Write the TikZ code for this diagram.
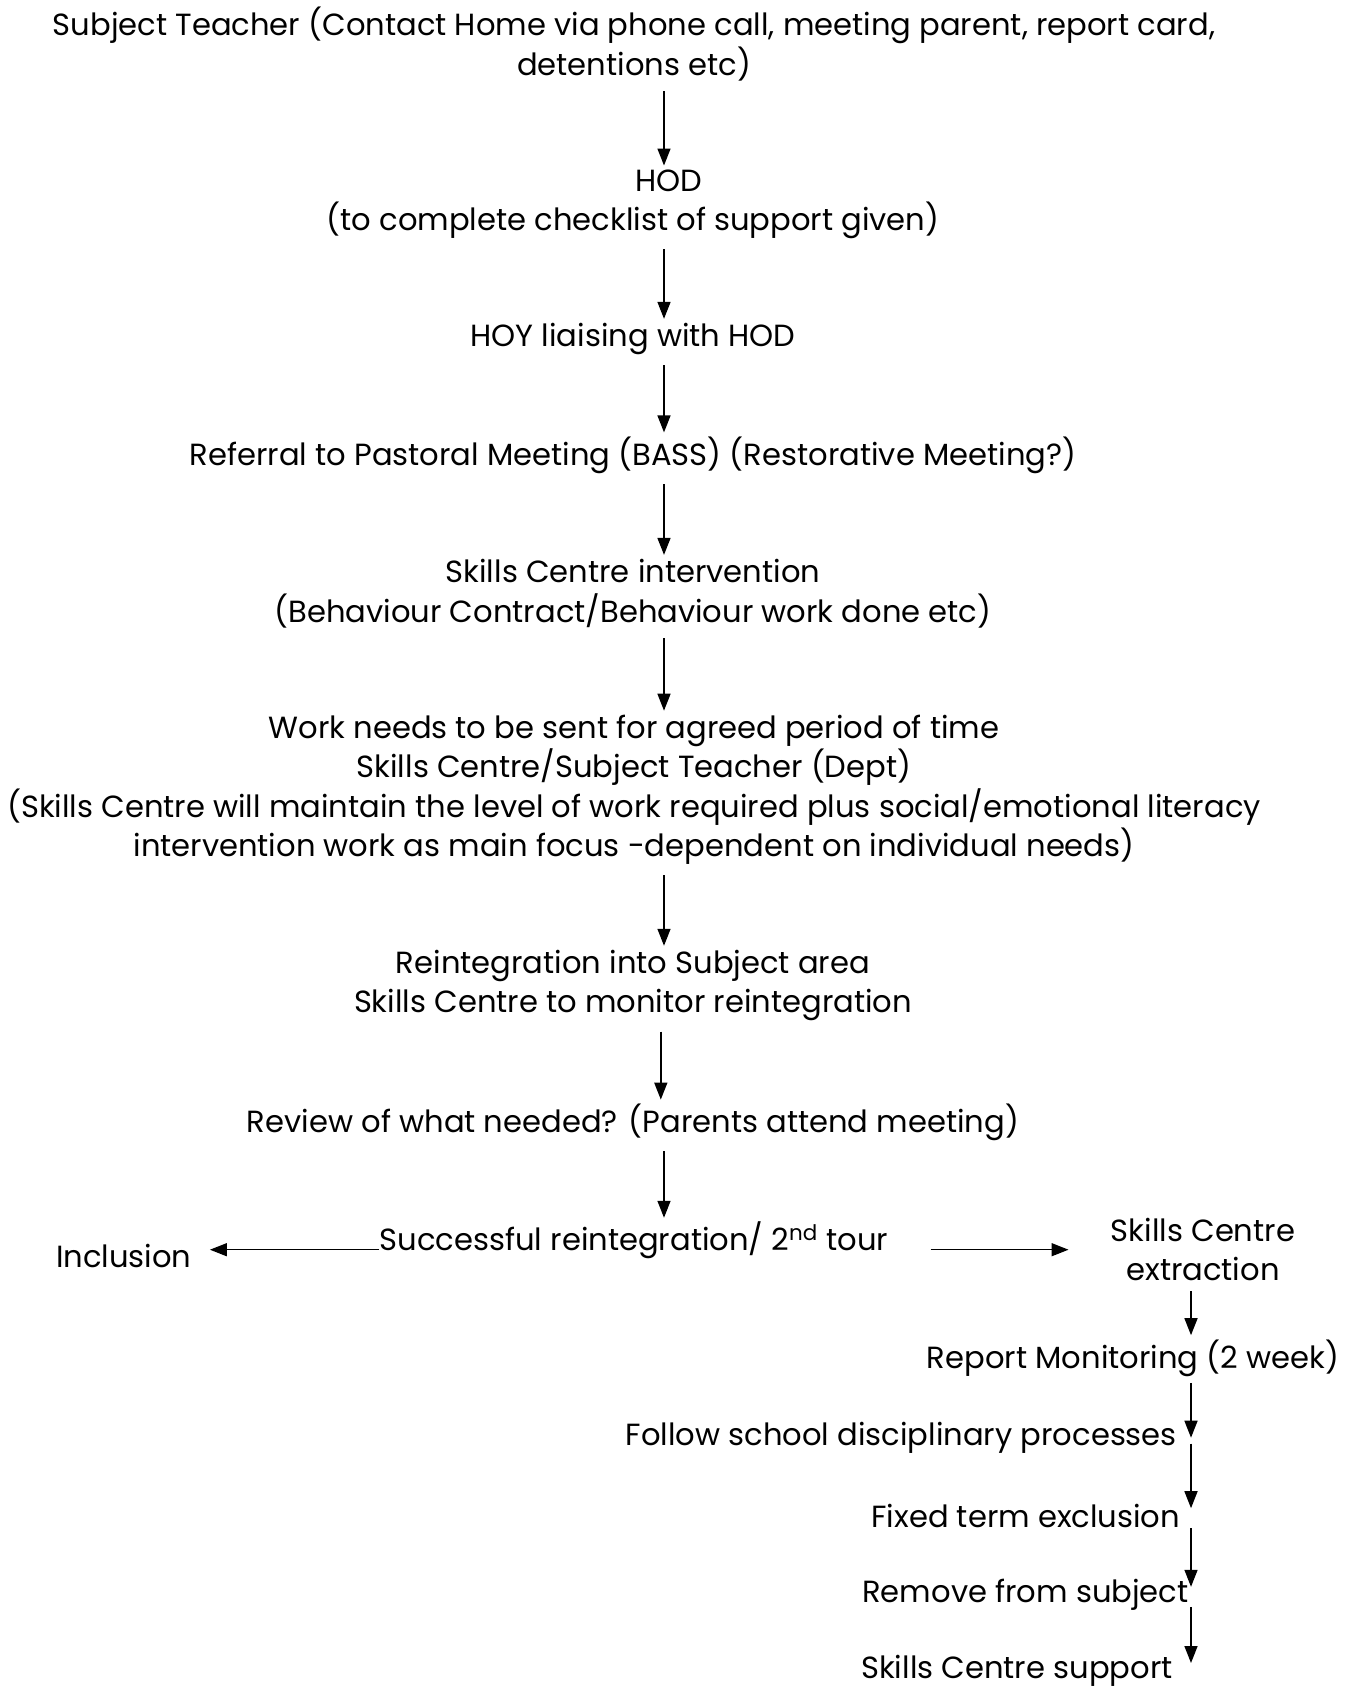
\documentclass[tikz,border=0pt]{standalone}
\usepackage{fontspec}
\setmainfont{Poppins}
\usetikzlibrary{arrows.meta}

\begin{document}
\begin{tikzpicture}[x=0.5pt,y=-0.5pt]
			\tikzstyle{every node}=[inner sep=0pt, align=center, font=\fontsize{15.3}{19.75}\selectfont]
			\tikzstyle{arr}=[-{Triangle[length=8.5pt,width=6.5pt]}, line width=0.75pt, shorten <=5pt, shorten >=2pt]
			\clip (0,0) rectangle (1358,1687);
			\coordinate (spine) at (664,0);
			\coordinate (col) at (1191,0);
			\node (st) at (634,44) {Subject Teacher (Contact Home via phone call, meeting parent, report card,\\ detentions etc)};
			\node (hod) at (669,180.8) {HOD};
			\node (hodsub) at (633,220.6) {(to complete checklist of support given)};
			\node (hoy) at (633,339) {HOY liaising with HOD};
			\node (ref) at (633,455.2) {Referral to Pastoral Meeting (BASS) (Restorative Meeting?)};
			\node (sci) at (633,593.5) {Skills Centre intervention\\ (Behaviour Contract/Behaviour work done etc)};
			\node (work) at (634,790) {Work needs to be sent for agreed period of time\\ Skills Centre/Subject Teacher (Dept)\\ (Skills Centre will maintain the level of work required plus social/emotional literacy\\ intervention work as main focus -dependent on individual needs)};
			\node (rei) at (633,985.7) {Reintegration into Subject area\\ Skills Centre to monitor reintegration};
			\node (rev) at (633,1122.4) {Review of what needed? (Parents attend meeting)};
			\node (succ) at (634,1240.7) {Successful reintegration/ 2\textsuperscript{nd} tour};
			\node (incl) at (123.8,1255.8) {Inclusion};
			\node (ext) at (1203,1249.4) {Skills Centre\\ extraction};
			\node (rm) at (1133,1358) {Report Monitoring (2 week)};
			\node[anchor=east] (fs) at (1177.3,1437.7) {Follow school disciplinary processes};
			\node[anchor=east] (fe) at (1180.5,1516.2) {Fixed term exclusion};
			\node[anchor=east] (rs) at (1189,1594.8) {Remove from subject};
			\node[anchor=east] (scs) at (1173,1671) {Skills Centre support};
			\draw[arr] (st.south -| spine) -- (hod.north -| spine);
			\draw[arr] (hodsub.south -| spine) -- (hoy.north -| spine);
			\draw[arr] (hoy.south -| spine) -- (ref.north -| spine);
			\draw[arr] (ref.south -| spine) -- (sci.north -| spine);
			\draw[arr] (sci.south -| spine) -- (work.north -| spine);
			\draw[arr] (work.south -| spine) -- (rei.north -| spine);
			\draw[arr] ([xshift=-1.6pt]rei.south -| spine) -- ([xshift=-1.6pt]rev.north -| spine);
			\draw[arr] (rev.south -| spine) -- (succ.north -| spine);
			\draw[arr, shorten <=0pt, shorten >=9pt] ([yshift=-4.5pt]succ.west) -- ([yshift=-4.5pt]succ.west -| incl.east);
			\draw[arr, shorten <=21pt, shorten >=21pt] ([yshift=-4.5pt]succ.east) -- ([yshift=-4.5pt]succ.east -| ext.west);
			\draw[arr] (ext.south -| col) -- (rm.north -| col);
			\draw[arr, shorten <=3pt, shorten >=0pt] (rm.south -| col) -- (fs.east -| col);
			\draw[arr, shorten <=3pt] (fs.east -| col) -- ([yshift=2pt]fe.east -| col);
			\draw[arr, shorten <=6pt] (fe.east -| col) -- ([yshift=2pt]rs.east -| col);
			\draw[arr, shorten <=6pt] (rs.east -| col) -- ([yshift=2pt]scs.east -| col);
		\end{tikzpicture}
\end{document}
